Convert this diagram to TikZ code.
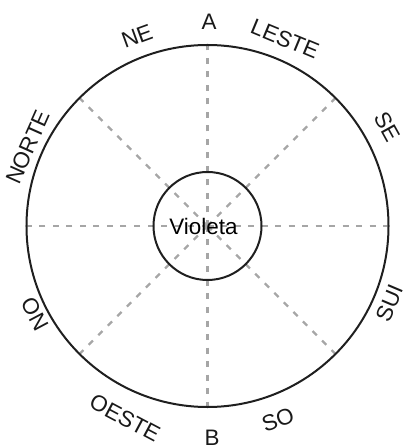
\documentclass[tikz,border=0pt]{standalone}
\usepackage{fontspec}
\setmainfont{Liberation Sans}
\pgfdeclarelayer{background}
\pgfsetlayers{background,main}
\begin{document}
\begin{tikzpicture}[x=1bp,y=1bp,
  ring/.style={draw=black!88,line width=2bp,circle,inner sep=0pt},
  dashline/.style={draw=black!35,line width=2.2bp,dash pattern=on 6bp off 7.5bp},
  lab/.style={font=\fontsize{22.5}{26}\selectfont,inner sep=0pt,text=black!90}]
\useasboundingbox (-207.5,-222) rectangle (195.5,226);
\node[ring,minimum size=362bp] (outer) at (0,0) {};
\node[ring,minimum size=108bp,font=\fontsize{22.5}{26}\selectfont] (inner) at (0,0) {\hspace*{-8bp}Violeta};
\begin{pgfonlayer}{background}
\foreach \a in {0,45,...,315}{
  \draw[dashline] (inner.center) -- (outer.\a);
}
\end{pgfonlayer}
\node[lab] (A) at (1.5,204) {A};
\node[lab,rotate=20] (NE) at (-70.5,190) {NE};
\node[lab,rotate=-22.5] (LESTE) at (77.5,187) {LESTE};
\node[lab,rotate=-61] (SE) at (179.5,99) {SE};
\node[lab,rotate=67] (SUI) at (182.5,-77) {SUI};
\node[lab,rotate=20] (SO) at (70.5,-194) {SO};
\node[lab] (B) at (4.5,-212) {B};
\node[lab,rotate=-28] (OESTE) at (-82.5,-192) {OESTE};
\node[lab,rotate=-62] (ON) at (-172.5,-88) {ON};
\node[lab,rotate=66] (NORTE) at (-179.5,79) {NORTE};
\end{tikzpicture}
\end{document}
